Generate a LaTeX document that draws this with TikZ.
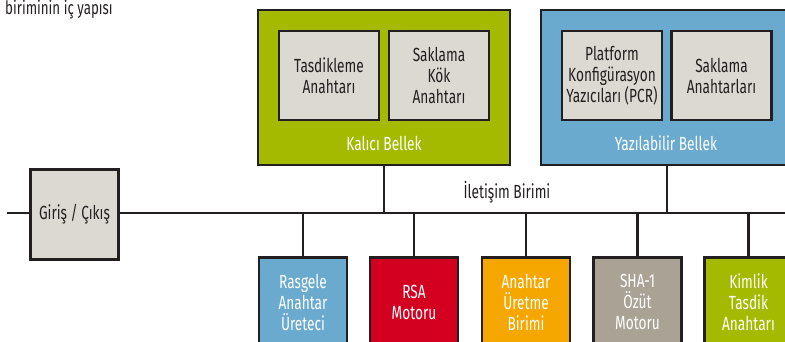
\documentclass[tikz,border=0pt]{standalone}
\usepackage{fontspec}
\setmainfont[FakeStretch=0.72]{Fira Sans}
\usepackage{tikz}
\usetikzlibrary{positioning}
\definecolor{hatsiyah}{RGB}{35,31,32}
\definecolor{kaliciyesil}{RGB}{164,186,0}
\definecolor{yazmavi}{RGB}{106,170,206}
\definecolor{icgri}{RGB}{220,217,210}
\definecolor{rsakirmizi}{RGB}{211,0,31}
\definecolor{uretturuncu}{RGB}{245,167,0}
\definecolor{shabej}{RGB}{169,162,149}
\tikzset{
  hat/.style={draw=hatsiyah,line width=2.2pt},
  bellekkutu/.style={draw=hatsiyah,line width=2.5pt,minimum width=252pt,minimum height=155pt,inner sep=0pt},
  ickutu/.style={draw=hatsiyah,line width=2.5pt,fill=icgri,text=hatsiyah,minimum width=100pt,minimum height=89pt,
    align=center,inner sep=0pt,font=\fontsize{19}{21}\selectfont},
  birimkutu/.style={draw=hatsiyah,line width=2.5pt,minimum width=88pt,minimum height=90pt,
    align=center,inner sep=0pt,font=\fontsize{19}{21}\selectfont},
  etiket/.style={font=\fontsize{19}{21}\selectfont,inner sep=0pt}
}
\newcommand{\altbirim}[4]{%
  \node[birimkutu,fill=#3,text=white,anchor=north] (#1) at (#2,256) {#4};%
  \draw[hat] (#1.north) -- (#1.north |- busR);%
}

\begin{document}
\begin{tikzpicture}[x=1pt,y=-1pt]
  \useasboundingbox (0,0) rectangle (785,342);
  \clip (0,0) rectangle (785,342);
  \node[etiket,font=\fontsize{18.5}{21}\selectfont,anchor=base west,text=hatsiyah] (baslik) at (5,14.5) {biriminin iç yapısı};
  % iletisim hatti
  \coordinate (busL) at (7,213);
  \coordinate (busR) at (790,213);
  \draw[hat] (busL) -- (busR);
  \node[etiket,text=hatsiyah] (iletisim) at (507,192) {İletişim Birimi};
  \node[birimkutu,fill=icgri,text=hatsiyah] (giris) at (74.5,214.5) {Giriş / Çıkış};
  % kalici bellek
  \node[bellekkutu,fill=kaliciyesil] (kalici) at (384,87.5) {};
  \node[ickutu] (tasdik) at (329,75.5) {Tasdikleme\\Anahtarı};
  \node[ickutu] (kokanahtar) at (439,75.5) {Saklama\\Kök\\Anahtarı};
  \node[etiket,text=white] (kalicietiket) at (384,143) {Kalıcı Bellek};
  \draw[hat] (kalici.south) -- (kalici.south |- busR);
  % yazilabilir bellek
  \node[bellekkutu,fill=yazmavi] (yazilabilir) at (667,87.5) {};
  \node[ickutu] (pcr) at (612,75.5) {Platform\\Konfigürasyon\\Yazıcıları (PCR)};
  \node[ickutu] (saklama) at (721.5,75.5) {Saklama\\Anahtarları};
  \node[etiket,text=white] (yazetiket) at (666,143) {Yazılabilir Bellek};
  \draw[hat] (yazilabilir.south) -- (yazilabilir.south |- busR);
  % alt birimler
  \altbirim{rasgele}{303}{yazmavi}{Rasgele\\Anahtar\\Üreteci}
  \altbirim{rsa}{414}{rsakirmizi}{RSA\\Motoru}
  \altbirim{uretme}{526}{uretturuncu}{Anahtar\\Üretme\\Birimi}
  \altbirim{sha}{637.5}{shabej}{SHA-1\\Özüt\\Motoru}
  \altbirim{kimlik}{748.5}{kaliciyesil}{Kimlik\\Tasdik\\Anahtarı}
\end{tikzpicture}
\end{document}
